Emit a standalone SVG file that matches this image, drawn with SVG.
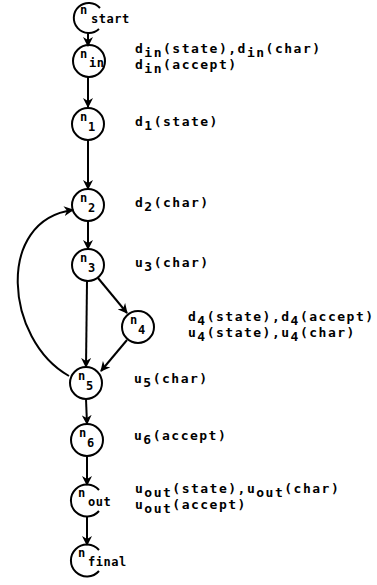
<svg xmlns="http://www.w3.org/2000/svg" width="377" height="585" viewBox="0 0 377 585">
<style>
.n{fill:none;stroke:#000;stroke-width:2}
.e{fill:none;stroke:#000;stroke-width:2;marker-end:url(#a)}
text{font-family:"DejaVu Sans Mono","Liberation Mono",monospace;font-weight:bold;font-size:13px;fill:#000;letter-spacing:1.5px}
.lb{font-size:12px;letter-spacing:0.5px}
</style>
<defs>
<marker id="a" viewBox="0 0 10 10" refX="9" refY="5" markerWidth="5" markerHeight="5" orient="auto" markerUnits="strokeWidth">
<path d="M0,0 L10,5 L0,10 L3,5 z" fill="#000"/>
</marker>
</defs>
<rect width="377" height="585" fill="#fff"/>
<g id="edges">
<line class="e" x1="88" y1="33" x2="88" y2="46"/>
<line class="e" x1="88" y1="77" x2="88" y2="107"/>
<line class="e" x1="88" y1="140" x2="88" y2="189"/>
<line class="e" x1="88" y1="221" x2="88" y2="249"/>
<line class="e" x1="87" y1="281" x2="86" y2="367"/>
<line class="e" x1="98" y1="278" x2="127" y2="313"/>
<line class="e" x1="127" y1="340" x2="101" y2="371"/>
<path class="e" d="M69,376 C5,340 -5,220 73,210"/>
<line class="e" x1="86" y1="399" x2="87" y2="424"/>
<line class="e" x1="87" y1="456" x2="87" y2="485"/>
<line class="e" x1="87" y1="516" x2="87" y2="545"/>
</g>
<g id="n_start">
<path class="n" d="M100,8 A15,15 0 1 0 99,29"/>
<text class="lb" x="80" y="14">n</text><text class="lb" x="91" y="23">start</text>
</g>
<g id="n_in">
<circle class="n" cx="89" cy="61" r="16"/>
<text class="lb" x="80" y="58">n</text><text class="lb" x="89" y="67">in</text>
<text x="135" y="53">d<tspan dy="4">in</tspan><tspan dy="-4">(state),d</tspan><tspan dy="4">in</tspan><tspan dy="-4">(char)</tspan></text>
<text x="135" y="69">d<tspan dy="4">in</tspan><tspan dy="-4">(accept)</tspan></text>
</g>
<g id="n_1">
<circle class="n" cx="88" cy="124" r="16"/>
<text class="lb" x="80" y="121">n</text><text class="lb" x="88" y="131">1</text>
<text x="135" y="126">d<tspan dy="4">1</tspan><tspan dy="-4">(state)</tspan></text>
</g>
<g id="n_2">
<circle class="n" cx="88" cy="205" r="16"/>
<text class="lb" x="80" y="202">n</text><text class="lb" x="88" y="212">2</text>
<text x="135" y="207">d<tspan dy="4">2</tspan><tspan dy="-4">(char)</tspan></text>
</g>
<g id="n_3">
<circle class="n" cx="88" cy="265" r="16"/>
<text class="lb" x="80" y="262">n</text><text class="lb" x="88" y="272">3</text>
<text x="135" y="267">u<tspan dy="4">3</tspan><tspan dy="-4">(char)</tspan></text>
</g>
<g id="n_4">
<circle class="n" cx="138" cy="327" r="16"/>
<text class="lb" x="130" y="324">n</text><text class="lb" x="138" y="334">4</text>
<text x="188" y="321">d<tspan dy="4">4</tspan><tspan dy="-4">(state),d</tspan><tspan dy="4">4</tspan><tspan dy="-4">(accept)</tspan></text>
<text x="188" y="337">u<tspan dy="4">4</tspan><tspan dy="-4">(state),u</tspan><tspan dy="4">4</tspan><tspan dy="-4">(char)</tspan></text>
</g>
<g id="n_5">
<circle class="n" cx="86" cy="383" r="16"/>
<text class="lb" x="78" y="380">n</text><text class="lb" x="86" y="390">5</text>
<text x="134" y="383">u<tspan dy="4">5</tspan><tspan dy="-4">(char)</tspan></text>
</g>
<g id="n_6">
<circle class="n" cx="87" cy="440" r="16"/>
<text class="lb" x="79" y="437">n</text><text class="lb" x="87" y="447">6</text>
<text x="134" y="440">u<tspan dy="4">6</tspan><tspan dy="-4">(accept)</tspan></text>
</g>
<g id="n_out">
<path class="n" d="M99,490 A16,16 0 1 0 99,511"/>
<text class="lb" x="78" y="497">n</text><text class="lb" x="88" y="506">out</text>
<text x="135" y="493">u<tspan dy="4">out</tspan><tspan dy="-4">(state),u</tspan><tspan dy="4">out</tspan><tspan dy="-4">(char)</tspan></text>
<text x="135" y="509">u<tspan dy="4">out</tspan><tspan dy="-4">(accept)</tspan></text>
</g>
<g id="n_final">
<path class="n" d="M99,550 A16,16 0 1 0 99,571"/>
<text class="lb" x="78" y="557">n</text><text class="lb" x="88" y="566">final</text>
</g>
</svg>
